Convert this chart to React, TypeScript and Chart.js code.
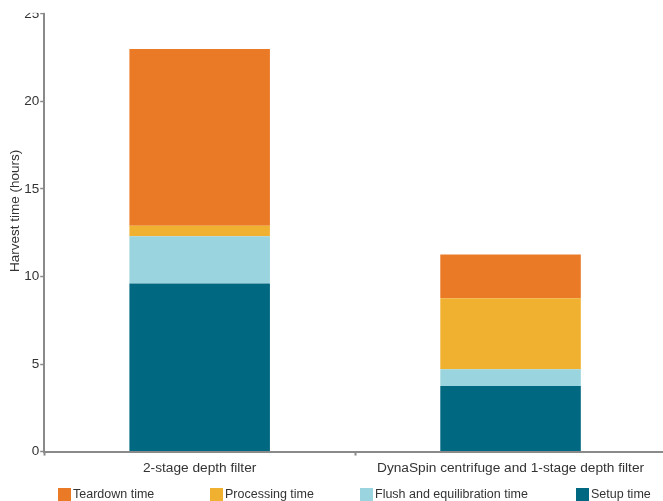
import React, { useEffect, useRef } from "react";
import { Chart, registerables } from "chart.js";

Chart.register(...registerables);

const categories = ["2-stage depth filter", "DynaSpin centrifuge and 1-stage depth filter"];
const setupTime = [9.6, 3.75];
const flushTime = [2.7, 0.95];
const processingTime = [0.6, 4.05];
const teardownTime = [10.1, 2.5];
const yTicks = [0, 5, 10, 15, 20, 25];
const yAxisTitle = "Harvest time (hours)";

const seriesNames = ["Teardown time", "Processing time", "Flush and equilibration time", "Setup time"];
const seriesColors = ["#EB7A27", "#F0B131", "#9AD4DE", "#006880"];

const FONT = "'Liberation Sans', Helvetica, Arial, sans-serif";
const TEXT = "#333333";
const AXIS = "#8a8a8a";

const clipTop = {
  id: "clipTop",
  afterDraw(chart: any) {
    const y = chart.scales.y.getPixelForValue(yTicks[yTicks.length - 1]) - 1;
    const ctx = chart.ctx;
    ctx.save();
    ctx.fillStyle = "#ffffff";
    ctx.fillRect(0, 0, chart.width, y);
    ctx.restore();
  },
};

export default function App() {
  const ref = useRef<HTMLCanvasElement | null>(null);

  useEffect(() => {
    if (!ref.current) return;
    const chart = new Chart(ref.current, {
      type: "bar",
      data: {
        labels: categories,
        datasets: [
          { label: seriesNames[3], data: setupTime, backgroundColor: seriesColors[3] },
          { label: seriesNames[2], data: flushTime, backgroundColor: seriesColors[2] },
          { label: seriesNames[1], data: processingTime, backgroundColor: seriesColors[1] },
          { label: seriesNames[0], data: teardownTime, backgroundColor: seriesColors[0] },
        ],
      },
      options: {
        animation: false,
        responsive: true,
        maintainAspectRatio: false,
        layout: { padding: { top: 0, right: 0, left: 0, bottom: 21 } },
        datasets: { bar: { barPercentage: 0.452, categoryPercentage: 1, borderWidth: 0 } },
        plugins: { legend: { display: false }, tooltip: { enabled: false } },
        scales: {
          x: {
            stacked: true,
            offset: true,
            grid: {
              offset: true,
              drawOnChartArea: false,
              drawTicks: true,
              tickLength: 4,
              tickWidth: 2,
              tickColor: AXIS,
            },
            border: { display: true, color: AXIS, width: 2 },
            ticks: { color: TEXT, padding: 4, font: { family: FONT, size: 13.7 }, maxRotation: 0 },
          },
          y: {
            stacked: true,
            min: 0,
            max: 27.5,
            afterBuildTicks: (s: any) => {
              s.ticks = yTicks.map((v) => ({ value: v }));
            },
            grid: {
              drawOnChartArea: false,
              drawTicks: true,
              tickLength: 4,
              tickWidth: 1.5,
              tickColor: AXIS,
            },
            border: { display: true, color: AXIS, width: 2 },
            ticks: { color: TEXT, padding: 1, font: { family: FONT, size: 13.5 } },
            title: {
              display: true,
              text: yAxisTitle,
              color: TEXT,
              padding: { top: 7, bottom: 0 },
              font: { family: FONT, size: 13.5 },
            },
          },
        },
      },
      plugins: [clipTop],
    });
    return () => chart.destroy();
  }, []);

  const legendLeft = [58, 210, 360, 576];

  return (
    <div
      style={{
        position: "absolute",
        left: 0,
        top: 0,
        width: 663,
        height: 501,
        overflow: "hidden",
        background: "#fff",
      }}
    >
      <div style={{ position: "absolute", left: 0, top: -39, width: 666, height: 540 }}>
        <canvas ref={ref} />
      </div>
      {seriesNames.map((name, i) => (
        <div
          key={name}
          style={{
            position: "absolute",
            left: legendLeft[i],
            top: 487,
            height: 14,
            display: "flex",
            alignItems: "center",
            whiteSpace: "nowrap",
            fontFamily: FONT,
            fontSize: 12.5,
            color: TEXT,
          }}
        >
          <span
            style={{
              display: "inline-block",
              width: 13,
              height: 13,
              background: seriesColors[i],
              marginRight: 2,
            }}
          />
          <span>{name}</span>
        </div>
      ))}
    </div>
  );
}
